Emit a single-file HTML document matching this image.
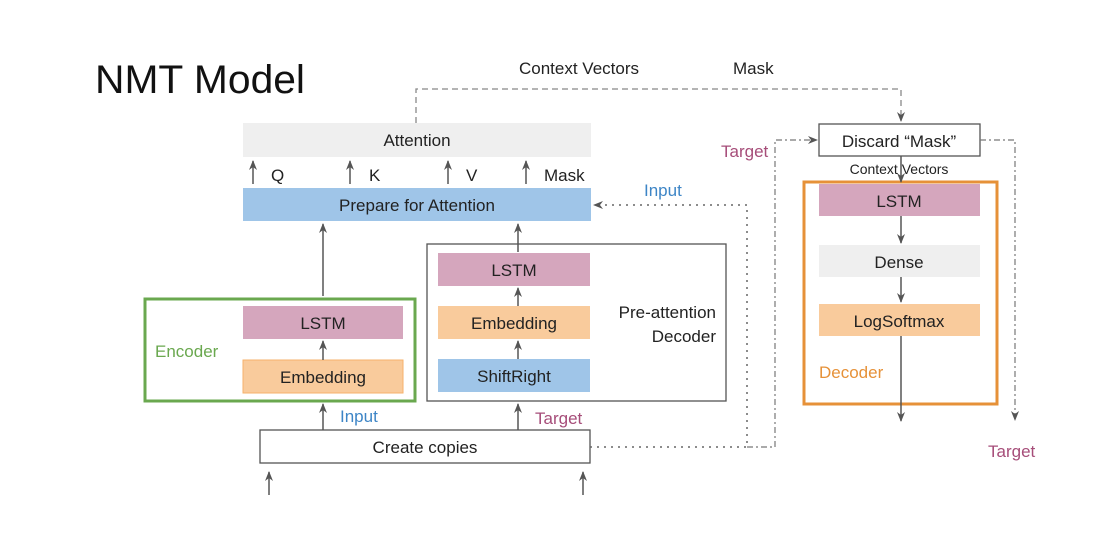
<!DOCTYPE html>
<html><head><meta charset="utf-8"><style>
html,body{margin:0;padding:0;background:#fff;}
svg{display:block;font-family:"Liberation Sans",sans-serif;}
</style></head><body>
<svg width="1105" height="546" viewBox="0 0 1105 546" xmlns="http://www.w3.org/2000/svg">
<defs>
<marker id="a" markerWidth="10" markerHeight="10" refX="9" refY="5" orient="auto" markerUnits="userSpaceOnUse"><path d="M0,1 L10,5 L0,9 L3,5 Z" fill="#555"/></marker>
</defs>
<text x="95" y="93" font-size="40" fill="#111" textLength="210" lengthAdjust="spacingAndGlyphs">NMT Model</text>

<path d="M416,123 V89 H901 V121" fill="none" stroke="#888" stroke-width="1.3" stroke-dasharray="6,4" marker-end="url(#a)"/>
<text x="519" y="74" font-size="17" fill="#222">Context Vectors</text>
<text x="733" y="74" font-size="17" fill="#222">Mask</text>

<rect x="243" y="123" width="348" height="34" fill="#efefef"/>
<text x="417" y="146" font-size="17" text-anchor="middle" fill="#222">Attention</text>
<g stroke="#555" stroke-width="1.5">
<line x1="253" y1="184" x2="253" y2="161" marker-end="url(#a)"/>
<line x1="350" y1="184" x2="350" y2="161" marker-end="url(#a)"/>
<line x1="448" y1="184" x2="448" y2="161" marker-end="url(#a)"/>
<line x1="526" y1="184" x2="526" y2="161" marker-end="url(#a)"/>
</g>
<g font-size="17" fill="#222"><text x="271" y="181">Q</text><text x="369" y="181">K</text><text x="466" y="181">V</text><text x="544" y="181">Mask</text></g>

<rect x="243" y="188" width="348" height="33" fill="#9fc5e8"/>
<text x="417" y="211" font-size="17" text-anchor="middle" fill="#222">Prepare for Attention</text>

<line x1="323" y1="296" x2="323" y2="224" stroke="#555" stroke-width="1.5" marker-end="url(#a)"/>
<line x1="518" y1="252" x2="518" y2="224" stroke="#555" stroke-width="1.5" marker-end="url(#a)"/>

<rect x="145" y="299" width="270" height="102" fill="none" stroke="#6aa84f" stroke-width="3"/>
<rect x="243" y="306" width="160" height="33" fill="#d5a6bd"/>
<text x="323" y="329" font-size="17" text-anchor="middle" fill="#222">LSTM</text>
<rect x="243" y="360" width="160" height="33" fill="#f9cb9c" stroke="#f6b26b" stroke-width="1"/>
<text x="323" y="383" font-size="17" text-anchor="middle" fill="#222">Embedding</text>
<line x1="323" y1="360" x2="323" y2="341" stroke="#555" stroke-width="1.5" marker-end="url(#a)"/>
<text x="155" y="357" font-size="17" fill="#6aa84f">Encoder</text>

<rect x="427" y="244" width="299" height="157" fill="none" stroke="#555" stroke-width="1.3"/>
<rect x="438" y="253" width="152" height="33" fill="#d5a6bd"/>
<text x="514" y="276" font-size="17" text-anchor="middle" fill="#222">LSTM</text>
<rect x="438" y="306" width="152" height="33" fill="#f9cb9c"/>
<text x="514" y="329" font-size="17" text-anchor="middle" fill="#222">Embedding</text>
<rect x="438" y="359" width="152" height="33" fill="#9fc5e8"/>
<text x="514" y="382" font-size="17" text-anchor="middle" fill="#222">ShiftRight</text>
<line x1="518" y1="306" x2="518" y2="288" stroke="#555" stroke-width="1.5" marker-end="url(#a)"/>
<line x1="518" y1="359" x2="518" y2="341" stroke="#555" stroke-width="1.5" marker-end="url(#a)"/>
<text x="716" y="318" font-size="17" text-anchor="end" fill="#222">Pre-attention</text>
<text x="716" y="342" font-size="17" text-anchor="end" fill="#222">Decoder</text>

<rect x="260" y="430" width="330" height="33" fill="#fff" stroke="#555" stroke-width="1.3"/>
<text x="425" y="453" font-size="17" text-anchor="middle" fill="#222">Create copies</text>
<line x1="323" y1="430" x2="323" y2="404" stroke="#555" stroke-width="1.5" marker-end="url(#a)"/>
<line x1="518" y1="430" x2="518" y2="404" stroke="#555" stroke-width="1.5" marker-end="url(#a)"/>
<text x="340" y="422" font-size="17" fill="#3d85c6">Input</text>
<text x="535" y="424" font-size="17" fill="#a64d79">Target</text>
<line x1="269" y1="495" x2="269" y2="472" stroke="#555" stroke-width="1.5" marker-end="url(#a)"/>
<line x1="583" y1="495" x2="583" y2="472" stroke="#555" stroke-width="1.5" marker-end="url(#a)"/>

<path d="M590,447 H747 V205 H594" fill="none" stroke="#666" stroke-width="1.5" stroke-dasharray="2,5" marker-end="url(#a)"/>
<text x="644" y="196" font-size="17" fill="#3d85c6">Input</text>
<path d="M747,447 H775 V140 H817" fill="none" stroke="#777" stroke-width="1.2" stroke-dasharray="6,3,2,3" marker-end="url(#a)"/>
<text x="721" y="157" font-size="17" fill="#a64d79">Target</text>

<rect x="819" y="124" width="161" height="32" fill="#fff" stroke="#555" stroke-width="1.3"/>
<text x="899" y="147" font-size="17" text-anchor="middle" fill="#222">Discard “Mask”</text>
<path d="M980,140 H1015 V420" fill="none" stroke="#777" stroke-width="1.2" stroke-dasharray="6,3,2,3" marker-end="url(#a)"/>
<text x="988" y="457" font-size="17" fill="#a64d79">Target</text>

<rect x="804" y="182" width="193" height="222" fill="none" stroke="#e69138" stroke-width="3"/>
<rect x="819" y="184" width="161" height="32" fill="#d5a6bd"/>
<text x="899" y="207" font-size="17" text-anchor="middle" fill="#222">LSTM</text>
<rect x="819" y="245" width="161" height="32" fill="#efefef"/>
<text x="899" y="268" font-size="17" text-anchor="middle" fill="#222">Dense</text>
<rect x="819" y="304" width="161" height="32" fill="#f9cb9c"/>
<text x="899" y="327" font-size="17" text-anchor="middle" fill="#222">LogSoftmax</text>
<text x="819" y="378" font-size="17" fill="#e69138">Decoder</text>
<line x1="901" y1="156" x2="901" y2="182" stroke="#555" stroke-width="1.5" marker-end="url(#a)"/>
<text x="899" y="174" font-size="14" text-anchor="middle" fill="#222">Context Vectors</text>
<line x1="901" y1="216" x2="901" y2="243" stroke="#555" stroke-width="1.5" marker-end="url(#a)"/>
<line x1="901" y1="277" x2="901" y2="302" stroke="#555" stroke-width="1.5" marker-end="url(#a)"/>
<line x1="901" y1="336" x2="901" y2="421" stroke="#555" stroke-width="1.5" marker-end="url(#a)"/>
</svg>
</body></html>
